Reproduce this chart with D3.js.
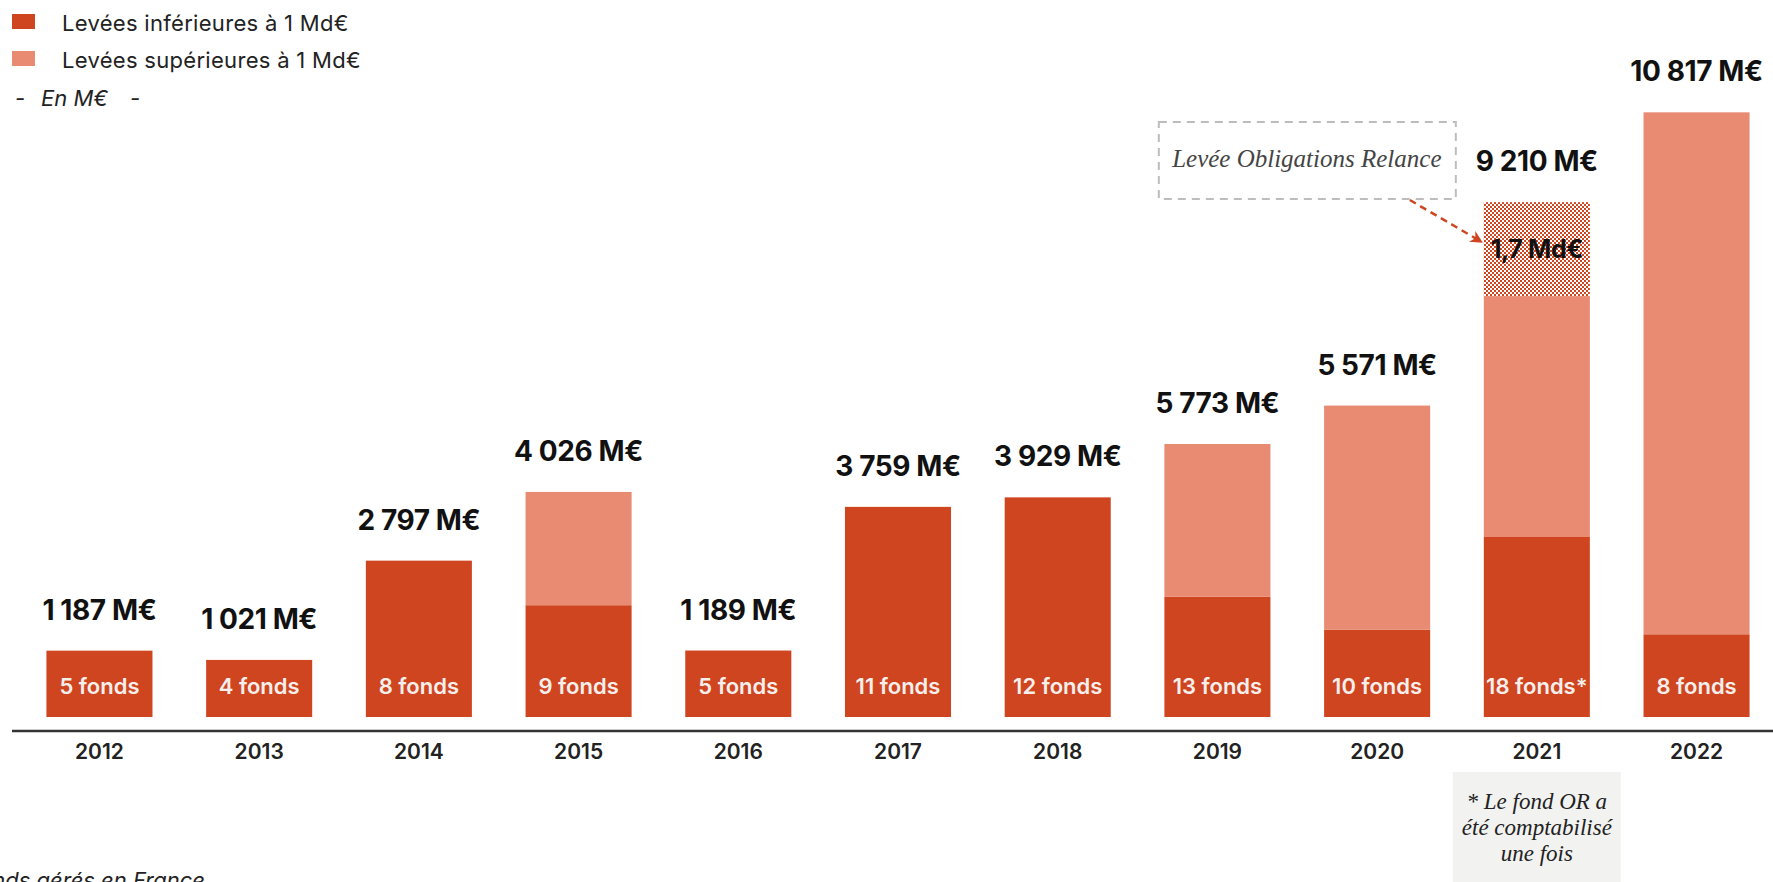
<!DOCTYPE html>
<html>
<head>
<meta charset="utf-8">
<script src="https://cdn.jsdelivr.net/npm/d3@7"></script>
<style>
    body { margin: 0; background: #ffffff; overflow: hidden; }
    svg { display: block; }
</style>
</head>
<body>
<script>
// data
var years = ["2012", "2013", "2014", "2015", "2016", "2017", "2018", "2019", "2020", "2021", "2022"];
var lowerValues = [1187, 1021, 2797, 2000, 1189, 3759, 3929, 2150, 1560, 3220, 1480];
var upperValues = [0, 0, 0, 2026, 0, 0, 0, 2734, 4011, 4310, 9337];
var relanceValues = [0, 0, 0, 0, 0, 0, 0, 0, 0, 1680, 0];
var totals = [1187, 1021, 2797, 4026, 1189, 3759, 3929, 5773, 5571, 9210, 10817];
var fundCounts = [5, 4, 8, 9, 5, 11, 12, 13, 10, 18, 8];
var fundNotes = ["", "", "", "", "", "", "", "", "", "*", ""];
var legendLabels = ["Levées inférieures à 1 Md€", "Levées supérieures à 1 Md€"];
var footnoteLines = ["* Le fond OR a", "été comptabilisé", "une fois"];

window.onload = () => {
    var width = 1773, height = 882;
    var darkRed = "#cf4520", lightRed = "#e98a72";
    var sans = "Inter, 'Noto Sans', sans-serif";
    var serif = "'Liberation Serif', 'DejaVu Serif', serif";

    var svg = d3.select("body").append("svg")
        .attr("width", width)
        .attr("height", height);

    // checker pattern for the Obligations Relance part
    var defs = svg.append("defs");
    var pat = defs.append("pattern")
        .attr("id", "checker")
        .attr("width", 4).attr("height", 4)
        .attr("patternUnits", "userSpaceOnUse");
    pat.append("rect").attr("width", 4).attr("height", 4).attr("fill", "#ffffff");
    pat.append("rect").attr("width", 2).attr("height", 2).attr("fill", darkRed);
    pat.append("rect").attr("x", 2).attr("y", 2).attr("width", 2).attr("height", 2).attr("fill", darkRed);

    defs.append("marker")
        .attr("id", "arrowhead")
        .attr("viewBox", "0 0 10 10")
        .attr("refX", 9).attr("refY", 5)
        .attr("markerWidth", 5).attr("markerHeight", 5)
        .attr("markerUnits", "strokeWidth")
        .attr("orient", "auto")
        .append("path")
        .attr("d", "M0,0 L10,5 L0,10 L3,5 Z")
        .attr("fill", darkRed);

    // scales
    var x = d3.scaleBand().domain(years).range([19.6, 1776.4]).paddingInner(0.336).paddingOuter(0.168);
    var y = d3.scaleLinear().domain([0, 11000]).range([717, 717 - 11000 * 0.0559]);

    var rows = years.map(function (yr, i) {
        return { year: yr, lower: lowerValues[i], upper: upperValues[i], relance: relanceValues[i],
                 total: totals[i], funds: fundCounts[i], note: fundNotes[i] };
    });

    var fmt = d3.formatLocale({ decimal: ",", thousands: " ", grouping: [3], currency: ["", ""] }).format(",d");

    // stacked bars
    var bars = svg.append("g").selectAll("g.bar")
        .data(rows)
        .enter()
        .append("g")
        .attr("class", "bar");

    bars.append("rect")
        .attr("x", function (d) { return x(d.year); })
        .attr("width", x.bandwidth())
        .attr("y", function (d) { return y(d.lower); })
        .attr("height", function (d) { return y(0) - y(d.lower); })
        .attr("fill", darkRed);

    bars.filter(function (d) { return d.upper > 0; })
        .append("rect")
        .attr("x", function (d) { return x(d.year); })
        .attr("width", x.bandwidth())
        .attr("y", function (d) { return y(d.lower + d.upper); })
        .attr("height", function (d) { return y(d.lower) - y(d.lower + d.upper); })
        .attr("fill", lightRed);

    bars.filter(function (d) { return d.relance > 0; })
        .append("rect")
        .attr("x", function (d) { return x(d.year); })
        .attr("width", x.bandwidth())
        .attr("y", function (d) { return y(d.lower + d.upper + d.relance); })
        .attr("height", function (d) { return y(d.lower + d.upper) - y(d.lower + d.upper + d.relance); })
        .attr("fill", "url(#checker)");

    // total labels above bars
    bars.append("text")
        .attr("x", function (d) { return x(d.year) + x.bandwidth() / 2; })
        .attr("y", function (d) { return y(d.lower + d.upper + d.relance) - 31; })
        .attr("text-anchor", "middle")
        .style("font-family", sans)
        .style("font-weight", 700)
        .style("font-size", "28px")
        .style("letter-spacing", "-0.4px")
        .style("fill", "#111")
        .text(function (d) { return fmt(d.total) + " M€"; });

    // number of funds inside bars
    bars.append("text")
        .attr("x", function (d) { return x(d.year) + x.bandwidth() / 2; })
        .attr("y", y(0) - 23)
        .attr("text-anchor", "middle")
        .style("font-family", sans)
        .style("font-weight", 600)
        .style("font-size", "22px")
        .style("fill", "#f7efec")
        .text(function (d) { return d.funds + " fonds" + d.note; });

    // 1,7 Md€ label in the checker part
    bars.filter(function (d) { return d.relance > 0; })
        .append("text")
        .attr("x", function (d) { return x(d.year) + x.bandwidth() / 2; })
        .attr("y", function (d) { return (y(d.lower + d.upper) + y(d.lower + d.upper + d.relance)) / 2 + 9; })
        .attr("text-anchor", "middle")
        .style("font-family", sans)
        .style("font-weight", 700)
        .style("font-size", "25px")
        .style("letter-spacing", "-0.4px")
        .style("fill", "#111")
        .text(function (d) { return (d.relance / 1000).toFixed(1).replace(".", ",") + " Md€"; });

    // X axis
    svg.append("line")
        .attr("x1", 12).attr("x2", width)
        .attr("y1", 731).attr("y2", 731)
        .attr("stroke", "#333")
        .attr("stroke-width", 2.5);

    var xAxis = svg.append("g")
        .attr("transform", "translate(0,731)")
        .call(d3.axisBottom(x).tickSize(0).tickPadding(13));
    xAxis.select(".domain").remove();
    xAxis.selectAll("text")
        .style("font-family", sans)
        .style("font-weight", 600)
        .style("font-size", "21px")
        .style("fill", "#222");

    // legend
    var legend = svg.append("g");
    legendLabels.forEach(function (lab, i) {
        legend.append("rect")
            .attr("x", 12).attr("y", 14 + i * 37)
            .attr("width", 23).attr("height", 15)
            .attr("fill", i === 0 ? darkRed : lightRed);
        legend.append("text")
            .attr("x", 62).attr("y", 31 + i * 37)
            .style("font-family", sans)
            .style("font-size", "22px")
            .style("letter-spacing", "0.3px")
            .style("fill", "#222")
            .text(lab);
    });
    [["-", 15], ["En M€", 41], ["-", 130]].forEach(function (p) {
        legend.append("text")
            .attr("x", p[1]).attr("y", 106)
            .style("font-family", sans)
            .style("font-style", "italic")
            .style("font-size", "22px")
            .style("fill", "#222")
            .text(p[0]);
    });

    // annotation: Levée Obligations Relance
    var bx21 = x("2021");
    svg.append("rect")
        .attr("x", bx21 - 325).attr("y", 122)
        .attr("width", 297).attr("height", 77)
        .attr("fill", "none")
        .attr("stroke", "#bdbdbd")
        .attr("stroke-width", 2)
        .attr("stroke-dasharray", "8,6");
    svg.append("text")
        .attr("x", bx21 - 177).attr("y", 167)
        .attr("text-anchor", "middle")
        .style("font-family", serif)
        .style("font-style", "italic")
        .style("font-size", "25px")
        .style("fill", "#444")
        .text("Levée Obligations Relance");
    svg.append("line")
        .attr("x1", bx21 - 74).attr("y1", 200)
        .attr("x2", bx21 - 2).attr("y2", 242)
        .attr("stroke", darkRed)
        .attr("stroke-width", 2.5)
        .attr("stroke-dasharray", "7,5")
        .attr("marker-end", "url(#arrowhead)");

    // footnote box under 2021
    var fx = x("2021") + x.bandwidth() / 2;
    svg.append("rect")
        .attr("x", fx - 84).attr("y", 772)
        .attr("width", 168).attr("height", 120)
        .attr("fill", "#f2f2f0");
    footnoteLines.forEach(function (line, i) {
        svg.append("text")
            .attr("x", fx).attr("y", 809 + i * 26)
            .attr("text-anchor", "middle")
            .style("font-family", serif)
            .style("font-style", "italic")
            .style("font-size", "23px")
            .style("fill", "#222")
            .text(line);
    });

    // source text cut at the bottom left
    svg.append("text")
        .attr("x", 205).attr("y", 888)
        .attr("text-anchor", "end")
        .style("font-family", sans)
        .style("font-style", "italic")
        .style("font-size", "22px")
        .style("fill", "#222")
        .text("Fonds gérés en France");
};
</script>
</body>
</html>
